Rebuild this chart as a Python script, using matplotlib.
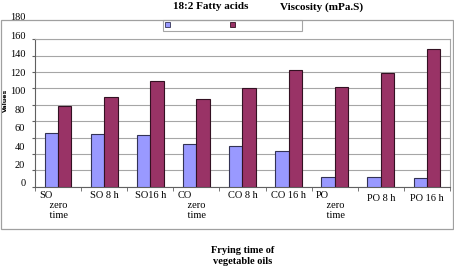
import matplotlib.pyplot as plt
from matplotlib.patches import Rectangle, Patch
from matplotlib.transforms import ScaledTranslation
import numpy as np

categories = ['SO\n    zero\n    time', 'SO 8 h', 'SO16 h', 'CO\n    zero\n    time', 'CO 8 h',
              'CO 16 h', 'PO\n    zero\n    time', 'PO 8 h', 'PO 16 h']
fatty_acids = [65, 64, 63, 52, 50, 43, 12, 12, 11]
viscosity = [98, 109, 129, 107, 120, 143, 122, 139, 168]
y_ticks = [0, 20, 40, 60, 80, 100, 120, 140, 160, 180]

plt.rcParams['font.family'] = ['Liberation Serif', 'DejaVu Serif']

W, H = 454, 268
fig = plt.figure(figsize=(W / 100, H / 100), dpi=100)

def fx(px):
    return px / W

def fy(py):
    return 1 - py / H

# outer chart frame
fig.patches.append(Rectangle((fx(1), fy(229.3)), fx(452), (229.3 - 19.5) / H,
                             transform=fig.transFigure, fill=False,
                             edgecolor='#a0a0a0', linewidth=0.9))

ax = fig.add_axes([fx(35), fy(186.7), fx(415), 147.4 / H])
x = np.arange(len(categories))
w = 0.29
ax.bar(x - w / 2, fatty_acids, w, color='#9999ff', edgecolor='#333355', linewidth=0.8, zorder=3)
ax.bar(x + w / 2, viscosity, w, color='#993366', edgecolor='#331122', linewidth=0.8, zorder=3)

ax.set_xlim(-0.5, len(categories) - 0.5)
ax.set_ylim(0, 180)
ax.set_yticks(y_ticks)
ax.yaxis.grid(True, color='#a6a6a6', linewidth=0.8, zorder=0)
ax.tick_params(axis='y', labelleft=False, length=2, color='#606060')
ax.set_xticks(x)
ax.set_xticklabels(categories, fontsize=7.5, linespacing=1.15, va='top', multialignment='left')
ax.tick_params(axis='x', length=0, pad=3)
ax.set_xticks(np.arange(len(categories) + 1) - 0.5, minor=True)
ax.tick_params(axis='x', which='minor', length=3, color='#606060')
ticklabels = ax.get_xticklabels()
for i in (0, 3, 6):
    ticklabels[i].set_transform(ticklabels[i].get_transform() +
                                ScaledTranslation(-4.5 / 100, 0, fig.dpi_scale_trans))
for lbl in ticklabels[-2:]:
    lbl.set_transform(lbl.get_transform() +
                      ScaledTranslation(0, -3 / 100, fig.dpi_scale_trans))
for s in ['top', 'right']:
    ax.spines[s].set_color('#a6a6a6')
for s in ['left', 'bottom']:
    ax.spines[s].set_color('#606060')

# tick labels sit on their own (stretched) scale, as in the reference
lab = fig.add_axes([fx(35), fy(183), fx(415), 166.3 / H], frameon=False)
lab.set_ylim(0, 180)
lab.set_yticks(y_ticks)
lab.set_yticklabels([str(v) for v in y_ticks], fontsize=7.5)
lab.tick_params(axis='y', length=0, pad=7)
lab.set_xticks([])
lab.patch.set_alpha(0)

# legend box (its labels appear as the texts above the chart)
handles = [Patch(facecolor='#9999ff', edgecolor='#333355', linewidth=0.6),
           Patch(facecolor='#993366', edgecolor='#331122', linewidth=0.6)]
leg = ax.legend(handles, [' ', ' ' * 34], ncol=2, mode='expand',
                bbox_to_anchor=(fx(163), fy(33.5), fx(139), 13.5 / H),
                bbox_transform=fig.transFigure, fontsize=5, handlelength=0.6,
                handleheight=0.6, borderpad=0.35, borderaxespad=0, fancybox=False)
leg.get_frame().set_edgecolor('#909090')
leg.get_frame().set_linewidth(0.8)

fig.text(fx(173), fy(6.7), '18:2 Fatty acids', fontsize=8, fontweight='bold', va='center')
fig.text(fx(280), fy(6.7), 'Viscosity (mPa.S)', fontsize=8, fontweight='bold', va='center')
fig.text(fx(5), fy(100), 'Values', fontsize=4.5, fontweight='bold', rotation=90,
         ha='center', va='center', family=['DejaVu Sans'])
fig.text(fx(243), fy(256), 'Frying time of\nvegetable oils', fontsize=7.5,
         fontweight='bold', ha='center', va='center', linespacing=1.2)

plt.savefig('out.png', dpi=100)
